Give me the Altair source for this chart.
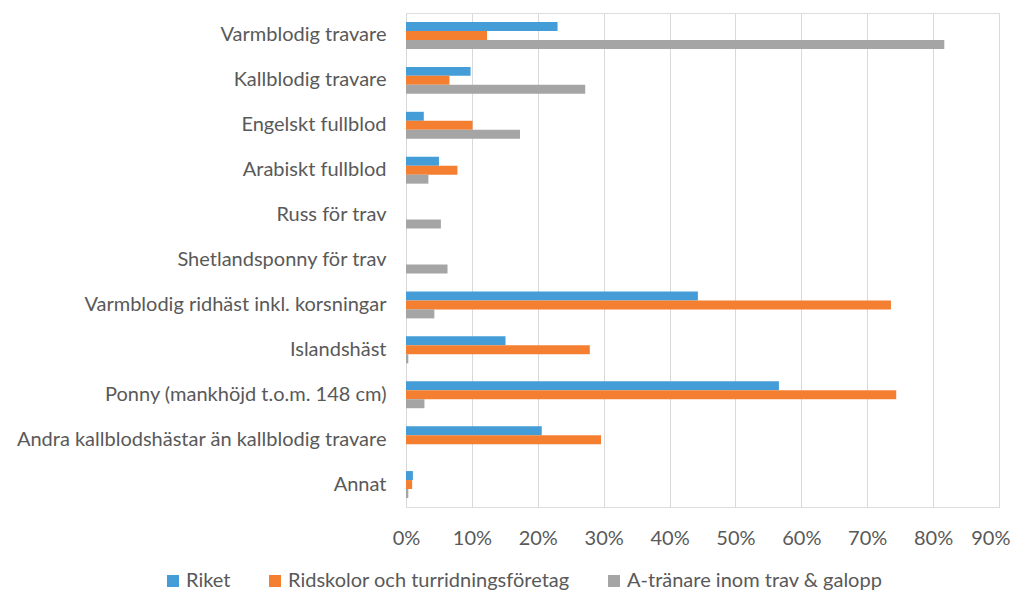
import altair as alt
import pandas as pd

categories = [
    "Varmblodig travare",
    "Kallblodig travare",
    "Engelskt fullblod",
    "Arabiskt fullblod",
    "Russ för trav",
    "Shetlandsponny för trav",
    "Varmblodig ridhäst inkl. korsningar",
    "Islandshäst",
    "Ponny (mankhöjd t.o.m. 148 cm)",
    "Andra kallblodshästar än kallblodig travare ",
    "Annat",
]
series = ["Riket", "Ridskolor och turridningsföretag", "A-tränare inom trav & galopp"]
riket = [0.230, 0.098, 0.027, 0.050, 0.0, 0.0, 0.443, 0.151, 0.566, 0.206, 0.0105]
ridskolor = [0.123, 0.066, 0.101, 0.078, 0.0, 0.0, 0.736, 0.279, 0.744, 0.296, 0.0093]
atranare = [0.817, 0.272, 0.173, 0.034, 0.053, 0.063, 0.043, 0.0035, 0.028, 0.0, 0.0035]
colors = ["#449DD7", "#F47F31", "#A5A5A5"]
x_ticks = [0, 0.1, 0.2, 0.3, 0.4, 0.5, 0.6, 0.7, 0.8, 0.9]

rows = []
for vals, s in zip([riket, ridskolor, atranare], series):
    for c, v in zip(categories, vals):
        rows.append({"kategori": c, "serie": s, "andel": v})
df = pd.DataFrame(rows)

FONT = "Lato"
TXT = "#595959"
FS = 20

chart = (
    alt.Chart(df)
    .mark_bar()
    .encode(
        y=alt.Y(
            "kategori:N",
            sort=categories,
            scale=alt.Scale(paddingInner=0.4, paddingOuter=0.2),
            axis=alt.Axis(
                title=None, domain=False, ticks=False, grid=False, labelPadding=20,
                labelFontSize=FS, labelColor=TXT, labelFont=FONT, labelLimit=400,
            ),
        ),
        yOffset=alt.YOffset("serie:N", sort=series, scale=alt.Scale(paddingInner=0, paddingOuter=0)),
        x=alt.X(
            "andel:Q",
            scale=alt.Scale(domain=[0, 0.9], nice=False),
            axis=alt.Axis(
                title=None, format=".0%", values=x_ticks, domain=False, ticks=False,
                grid=True, gridColor="#D9D9D9", gridWidth=1, labelPadding=21,
                labelFlush=False, labelOverlap=False,
                labelAlign=alt.ExprRef(expr="datum.value >= 0.89 ? 'right' : 'center'"),
                labelOffset=alt.ExprRef(expr="datum.value >= 0.89 ? 11 : 0"),
                labelFontSize=FS, labelColor=TXT, labelFont=FONT,
            ),
        ),
        color=alt.Color(
            "serie:N",
            sort=series,
            scale=alt.Scale(domain=series, range=colors),
            legend=alt.Legend(
                title=None, orient="none", legendX=-243, legendY=558,
                direction="horizontal", symbolType="square", symbolSize=144,
                symbolStrokeWidth=0, labelFontSize=FS, labelColor=TXT, labelFont=FONT,
                labelOffset=3, columnPadding=34, labelLimit=400,
            ),
        ),
    )
    .properties(
        width=593,
        height=494,
        autosize=alt.AutoSizeParams(type="none"),
        padding={"left": 398, "top": 5, "right": 12, "bottom": 84},
    )
    .configure_view(stroke="transparent", strokeWidth=0)
    .configure(background="white")
)

chart.save("out.html", embed_options={"renderer": "svg", "actions": False})
